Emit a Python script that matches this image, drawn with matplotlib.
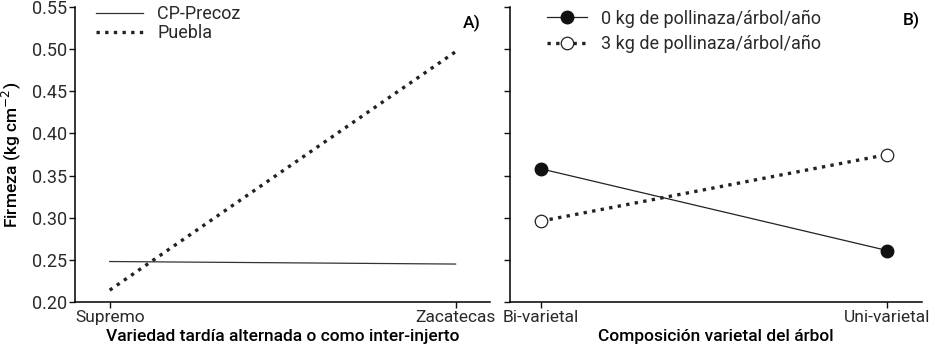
import matplotlib.pyplot as plt
import numpy as np

plt.rcParams["font.family"] = ["Roboto", "DejaVu Sans"]

# Panel A
VARIEDADES = ["Supremo", "Zacatecas"]
CP_PRECOZ = [0.248, 0.245]
PUEBLA = [0.214, 0.497]

# Panel B
COMPOSICION = ["Bi-varietal", "Uni-varietal"]
KG0 = [0.358, 0.261]
KG3 = [0.296, 0.375]

YTICKS = [0.20, 0.25, 0.30, 0.35, 0.40, 0.45, 0.50, 0.55]

TICK_FS = 13
XTICK_FS = 12.5
LABEL_FS = 12.5
TEXT_COLOR = "#2a2a2a"


def style_axes(ax):
    ax.spines["top"].set_visible(False)
    ax.spines["right"].set_visible(False)
    ax.spines["left"].set_linewidth(1.1)
    ax.spines["bottom"].set_linewidth(1.1)
    ax.tick_params(direction="out", length=4, width=1, labelsize=TICK_FS,
                   colors="#111111", labelcolor=TEXT_COLOR, pad=2)
    ax.tick_params(axis="x", labelsize=XTICK_FS)
    ax.set_ylim(0.20, 0.55)
    ax.set_yticks(YTICKS)


fig = plt.figure(figsize=(9.39, 3.54), dpi=100)
axA = fig.add_axes([0.080, 0.147, 0.442, 0.833])
axB = fig.add_axes([0.543, 0.147, 0.439, 0.833])

x = np.arange(2)

axA.plot(x, CP_PRECOZ, color="#333333", linewidth=0.9, label="CP-Precoz")
axA.plot(x, PUEBLA, color="#222222", linewidth=2.4, linestyle=(0, (1, 1.6)),
         label="Puebla")
axA.set_xlim(-0.10, 1.10)
axA.set_xticks(x)
axA.set_xticklabels(VARIEDADES)
axA.set_yticks(YTICKS)
axA.set_yticklabels([f"{v:.2f}" for v in YTICKS])
style_axes(axA)
axA.set_ylabel("Firmeza (kg cm$^{-2}$)", fontsize=LABEL_FS, fontweight="medium",
               labelpad=6)
axA.set_xlabel("Variedad tardía alternada o como inter-injerto", fontsize=LABEL_FS,
               fontweight="medium", labelpad=3)
legA = axA.legend(loc="upper left", bbox_to_anchor=(0.02, 1.05), frameon=False,
                  fontsize=TICK_FS, handlelength=2.6, labelspacing=0.05,
                  borderpad=0.2, labelcolor=TEXT_COLOR)
axA.text(0.955, 0.975, "A)", transform=axA.transAxes, fontsize=LABEL_FS,
         fontweight="medium", ha="center", va="top")

axB.plot(x, KG0, color="#222222", linewidth=0.9, marker="o", markersize=9,
         markerfacecolor="#111111", markeredgecolor="#111111",
         label="0 kg de pollinaza/árbol/año")
axB.plot(x, KG3, color="#222222", linewidth=2.4, linestyle=(0, (1, 1.6)),
         marker="o", markersize=9, markerfacecolor="white",
         markeredgecolor="#222222", markeredgewidth=0.9,
         label="3 kg de pollinaza/árbol/año")
axB.set_xlim(-0.09, 1.10)
axB.set_xticks(x)
axB.set_xticklabels(COMPOSICION)
axB.set_yticks(YTICKS)
axB.set_yticklabels([])
style_axes(axB)
axB.set_xlabel("Composición varietal del árbol", fontsize=LABEL_FS,
               fontweight="medium", labelpad=3)
legB = axB.legend(loc="upper left", bbox_to_anchor=(0.06, 1.035), frameon=False,
                  fontsize=TICK_FS, handlelength=2.2, labelspacing=0.4,
                  borderpad=0.2, labelcolor=TEXT_COLOR)
axB.text(0.975, 0.985, "B)", transform=axB.transAxes, fontsize=LABEL_FS,
         fontweight="medium", ha="center", va="top")

fig.savefig("out.png", dpi=100)
